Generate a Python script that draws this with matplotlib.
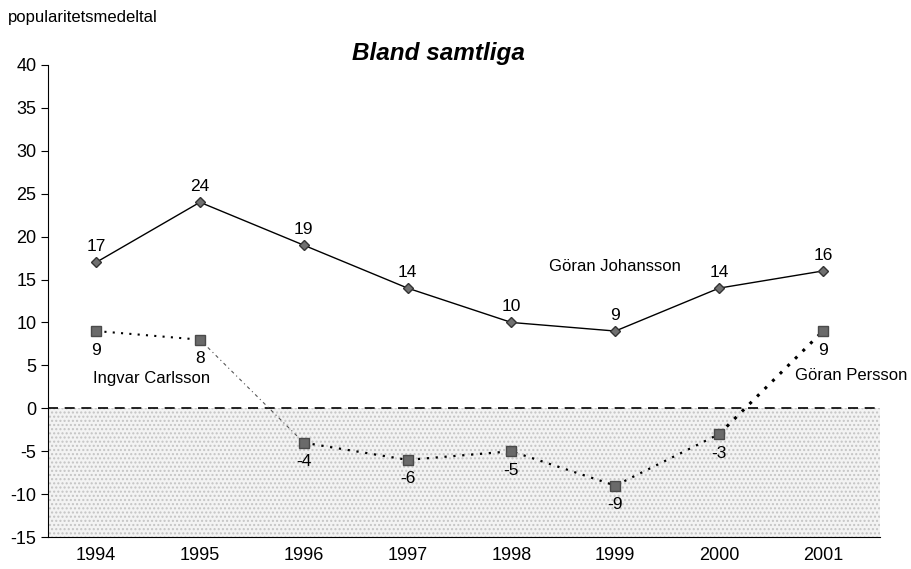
import matplotlib.pyplot as plt

plt.rcParams['font.family'] = ['Liberation Sans', 'DejaVu Sans']
plt.rcParams['axes.unicode_minus'] = False

years = ['1994', '1995', '1996', '1997', '1998', '1999', '2000', '2001']
johansson = [17, 24, 19, 14, 10, 9, 14, 16]
pm = [9, 8, -4, -6, -5, -9, -3, 9]   # Carlsson 1994-1995, Persson 1996-2001

fig = plt.figure(figsize=(9.12, 5.69), dpi=100)
ax = fig.add_axes([0.053, 0.056, 0.912, 0.830])
x = list(range(len(years)))

# shaded area below zero
ax.axhspan(-15, 0, facecolor='#f3f3f3', edgecolor='#c4c4c4', hatch='....', linewidth=0, zorder=0)
ax.axhline(0, color='black', linestyle=(0, (6, 4)), linewidth=1.2, zorder=1)

# Göran Johansson
ax.plot(x, johansson, color='black', linewidth=1, marker='D', markersize=5.5,
        markerfacecolor='#707070', markeredgecolor='#333333', zorder=3)
for xi, v in zip(x, johansson):
    ax.annotate(str(v), (xi, v), textcoords='offset points', xytext=(0, 8),
                ha='center', fontsize=12.5)

# Carlsson / Persson dotted segments
ax.plot(x[0:2], pm[0:2], color='black', linestyle=(0, (1, 3)), linewidth=1.5, zorder=2)
ax.plot(x[1:3], pm[1:3], color='#555555', linestyle=(0, (3, 3, 1, 3)), linewidth=0.8, zorder=2)
ax.plot(x[2:7], pm[2:7], color='black', linestyle=(0, (1, 3)), linewidth=1.6, zorder=2)
ax.plot(x[6:8], pm[6:8], color='black', linestyle=(0, (1, 2.5)), linewidth=2.2, zorder=2)
ax.plot(x, pm, linestyle='none', marker='s', markersize=7,
        markerfacecolor='#6a6a6a', markeredgecolor='#4a4a4a', zorder=3)
for xi, v in zip(x, pm):
    ax.annotate(str(v), (xi, v), textcoords='offset points', xytext=(0, -17),
                ha='center', fontsize=12.5)

ax.text(5.0, 16.5, 'Göran Johansson', ha='center', va='center', fontsize=12)
ax.text(0.53, 3.5, 'Ingvar Carlsson', ha='center', va='center', fontsize=12)
ax.text(7.27, 3.8, 'Göran Persson', ha='center', va='center', fontsize=12)

ax.set_xlim(-0.46, 7.55)
ax.set_ylim(-15, 40)
ax.set_yticks(range(-15, 41, 5))
ax.set_xticks(x)
ax.set_xticklabels(years)
ax.tick_params(axis='y', labelsize=13, direction='out', length=5)
ax.tick_params(axis='x', labelsize=13, length=0, pad=7)
ax.spines['top'].set_visible(False)
ax.spines['right'].set_visible(False)

ax.set_title('Bland samtliga', fontsize=17.5, fontweight='bold', fontstyle='italic', x=0.469, pad=1)
fig.text(0.009, 0.970, 'popularitetsmedeltal', fontsize=12, va='center')

fig.savefig('out.png', dpi=100)
